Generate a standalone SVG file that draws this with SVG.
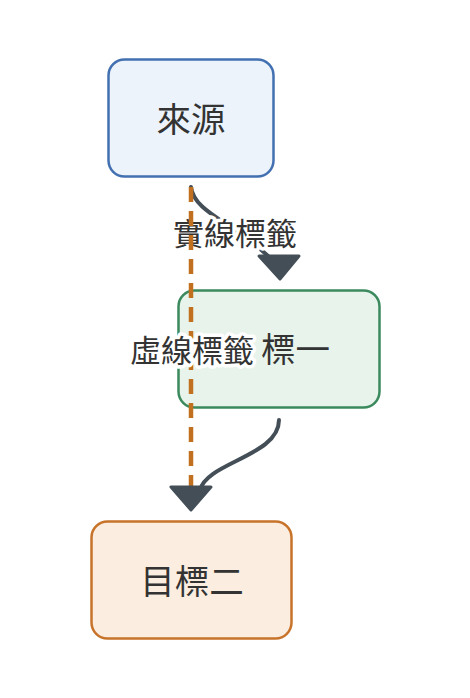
<svg xmlns="http://www.w3.org/2000/svg" width="470" height="698" viewBox="0 0 470 698">
<style>
.t{font-family:"Noto Sans CJK TC","Noto Sans CJK SC",sans-serif;font-size:34.5px;fill:#333;dominant-baseline:central}
.lbl{font-family:"Noto Sans CJK TC","Noto Sans CJK SC",sans-serif;font-size:31px;fill:#333;dominant-baseline:central;text-anchor:middle;paint-order:stroke;stroke:#fff;stroke-width:7;stroke-linejoin:round}
.solid{fill:none;stroke:#434e57;stroke-width:4;stroke-linecap:round}
.dash{fill:none;stroke:#c0701f;stroke-width:4.5;stroke-dasharray:15 9}
.head{fill:#434e57;stroke:#434e57;stroke-width:3;stroke-linejoin:round}
</style>
<rect width="470" height="698" fill="#fff"/>
<g id="source">
<rect x="108.5" y="59.5" width="165" height="117" rx="16" fill="#ecf3fb" stroke="#4270b0" stroke-width="2.5"/>
<text class="t" x="191" y="117" text-anchor="middle">來源</text>
</g>
<g id="target1">
<rect x="178.5" y="290.5" width="201" height="117" rx="16" fill="#e8f3eb" stroke="#3b8a5e" stroke-width="2.5"/>
<text class="t" x="261" y="347">標一</text>
</g>
<g id="target2">
<rect x="91.5" y="521.5" width="200" height="117" rx="16" fill="#fbeee0" stroke="#c8732a" stroke-width="2.5"/>
<text class="t" x="192" y="579" text-anchor="middle">目標二</text>
</g>
<g id="connectors">
<path class="solid" d="M191,187 C194,212 232,222 268,256"/>
<polygon class="head" points="259,256 299,256 280,279"/>
<text class="lbl" x="235" y="231">實線標籤</text>
<path class="dash" d="M191,187 L191,490"/>
<path class="solid" d="M279,420 C279,456 207,462 200,490"/>
<polygon class="head" points="171,487 211,487 191,510"/>
<text class="lbl" x="192" y="348">虛線標籤</text>
</g>
</svg>
